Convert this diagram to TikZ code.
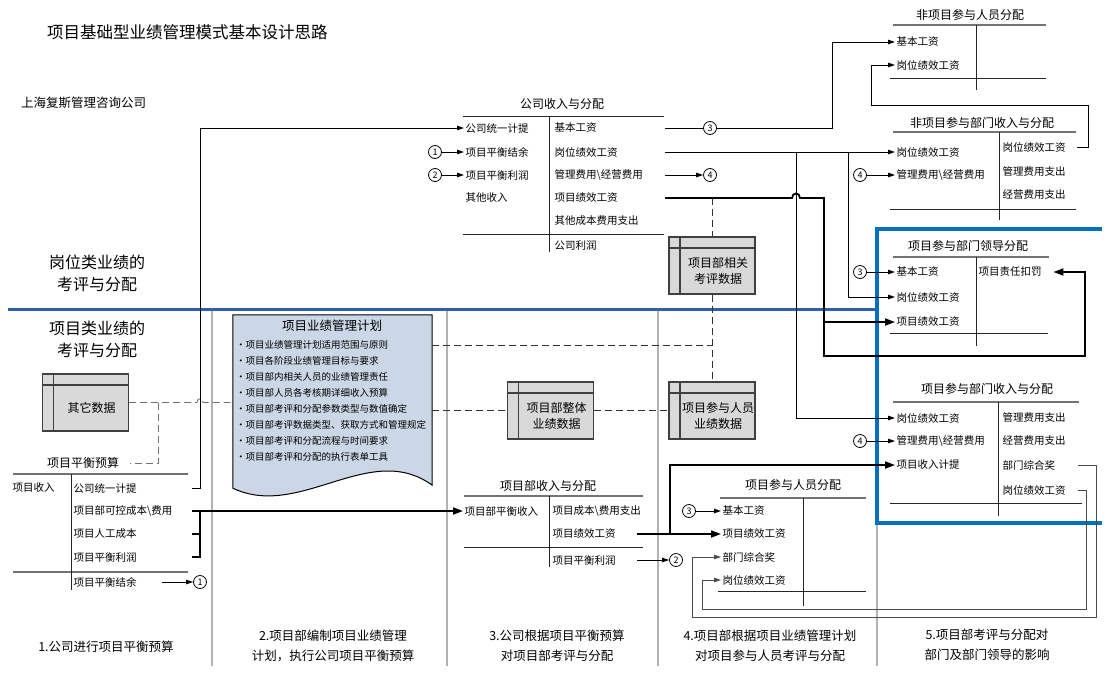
\documentclass[tikz,border=0pt]{standalone}
\usepackage{fontspec}
\setmainfont{Noto Sans CJK SC}
\usetikzlibrary{arrows.meta,positioning,calc}
\tikzset{>={Stealth[inset=0pt,length=7pt,width=4.5pt]}}
\definecolor{bandblue}{HTML}{2E5FA8}
\definecolor{boxblue}{HTML}{0070C0}
\definecolor{planfill}{HTML}{CBD7E7}
\tikzset{
  entry/.style={anchor=west, inner sep=1.5pt, font=\fontsize{10.5}{12}\selectfont},
  tbltitle/.style={inner sep=1pt, font=\fontsize{12}{14}\selectfont},
  tbltop/.style={draw=black!55, line width=1.8pt},
  tblrule/.style={draw=black!85, line width=0.9pt},
  conn/.style={draw=black, line width=0.9pt},
  backconn/.style={draw=black!70, line width=0.9pt},
  heavy/.style={draw=black, line width=1.8pt},
  bigtip/.style={-{Stealth[inset=0pt,length=10pt,width=7pt]}},
  numc/.style={circle, draw, line width=0.8pt, inner sep=0pt, minimum size=13pt, font=\fontsize{9}{9}\selectfont},
  datastore/.style={draw=black!75, fill=black!15, line width=1.1pt, minimum width=86pt, minimum height=57pt, inner sep=0pt,
    path picture={
      \draw[black!75, line width=1.1pt] ([xshift=11pt]path picture bounding box.north west) -- ([xshift=11pt]path picture bounding box.south west);
      \draw[black!75, line width=1.1pt] ([yshift=-11pt]path picture bounding box.north west) -- ([yshift=-11pt]path picture bounding box.north east);
      \node[align=center, font=\fontsize{12}{16}\selectfont] at ([shift={(6pt,-5pt)}]path picture bounding box.center) {#1};
    }},
  planitem/.style={anchor=west, inner sep=0pt, font=\fontsize{9.5}{11}\selectfont},
  caption/.style={align=center, font=\fontsize{12.5}{20}\selectfont},
  section/.style={align=center, font=\fontsize{16}{22}\selectfont},
  colsep/.style={draw=black!30, line width=1.2pt},
  dashlink/.style={draw=black!80, line width=0.9pt, dash pattern=on 7pt off 4pt},
}

\begin{document}
\begin{tikzpicture}[x=1pt,y=-1pt]
\useasboundingbox (0,0) rectangle (1118,694);

% Titulo
\node[anchor=west, inner sep=0pt, font=\fontsize{16.5}{18}\selectfont] (title) at (47,32) {项目基础型业绩管理模式基本设计思路};
\node[anchor=west, inner sep=0pt, font=\fontsize{12.5}{14}\selectfont] (firm) at (21,103) {上海复斯管理咨询公司};

% Franja azul y columnas
\foreach \x in {212,447,658} {\draw[colsep] (\x,311) -- (\x,666);}
\draw[colsep] (877,525) -- (877,666);
\draw[bandblue, line width=3pt] (8,309) -- (877,309);
\draw[boxblue, line width=4pt] (1102,229) -- (877,229) -- (877,523) -- (1102,523);

\node[section] (secPost) at (97,273) {岗位类业绩的\\考评与分配};
\node[section] (secProj) at (97,339) {项目类业绩的\\考评与分配};

% Pasos
\node[caption] (cap1) at (106,647) {1.公司进行项目平衡预算};
\node[caption] (cap2) at (333,646) {2.项目部编制项目业绩管理\\计划，执行公司项目平衡预算};
\node[caption] (cap3) at (557,646) {3.公司根据项目平衡预算\\对项目部考评与分配};
\node[caption] (cap4) at (770,646) {4.项目部根据项目业绩管理计划\\对项目参与人员考评与分配};
\node[caption] (cap5) at (987,645) {5.项目部考评与分配对\\部门及部门领导的影响};

% Datos
\node[datastore={其它数据}] (other) at (85.5,402.5) {};
\node[datastore={项目部相关\\考评数据}] (rel) at (712,265.5) {};
\node[datastore={项目部整体\\业绩数据}] (whole) at (550.5,410.5) {};
\node[datastore={项目参与人员\\业绩数据}] (mem) at (712,410.5) {};

% Plan (documento)
\node[minimum width=199pt, minimum height=173pt, inner sep=0pt] (plan) at (332.5,401.5) {};
\draw[black, line width=1pt, fill=planfill] (plan.south west) -- (plan.north west) -- (plan.north east)
  -- ([yshift=3pt]plan.south east) .. controls (370,440) and (300,520) .. (plan.south west) -- cycle;
\node[tbltitle, font=\fontsize{12.5}{14}\selectfont] (planT) at (332,326) {项目业绩管理计划};
\foreach \t [count=\i] in {项目业绩管理计划适用范围与原则, 项目各阶段业绩管理目标与要求,
  项目部内相关人员的业绩管理责任, 项目部人员各考核期详细收入预算, 项目部考评和分配参数类型与数值确定,
  项目部考评数据类型、获取方式和管理规定, 项目部考评和分配流程与时间要求, 项目部考评和分配的执行表单工具}
  {\node[planitem] (p\i) at (236,329+16*\i) {·\t};}

% Tabla: 项目平衡预算
\node[tbltitle] (aT) at (83,463) {项目平衡预算};
\draw[tbltop] (13,474) -- (188,474);
\draw[tbltop] (13,572) -- (188,572);
\draw[tblrule] (71,474) -- (71,590);
\node[entry] (aIncome) at (11,488) {项目收入};
\node[entry] (aDraw) at (72,488) {公司统一计提};
\node[entry] (aCost) at (72,511) {项目部可控成本\textbackslash 费用};
\node[entry] (aLabor) at (72,534) {项目人工成本};
\node[entry] (aProfit) at (72,557) {项目平衡利润};
\node[entry] (aBal) at (72,582) {项目平衡结余};
\node[numc] (c1a) at (200,582) {1};

% Tabla: 公司收入与分配
\node[tbltitle] (bT) at (562,104) {公司收入与分配};
\draw[tblrule] (463,116) -- (664,116);
\draw[tblrule] (463,234) -- (664,234);
\draw[tblrule] (549,116) -- (549,252);
\node[entry] (bDraw) at (464,128) {公司统一计提};
\node[entry] (bBal) at (464,152) {项目平衡结余};
\node[entry] (bProfit) at (464,175) {项目平衡利润};
\node[entry] (bOther) at (464,198) {其他收入};
\node[entry] (bBase) at (553,128) {基本工资};
\node[entry] (bPost) at (553,152) {岗位绩效工资};
\node[entry] (bFee) at (553,175) {管理费用\textbackslash 经营费用};
\node[entry] (bPerf) at (553,198) {项目绩效工资};
\node[entry] (bCost) at (553,221) {其他成本费用支出};
\node[entry] (bNet) at (553,245) {公司利润};
\node[numc] (c1b) at (435,152) {1};
\node[numc] (c2b) at (435,175) {2};
\node[numc] (c3b) at (710,128) {3};
\node[numc] (c4b) at (710,175) {4};

% Tabla: 非项目参与人员分配
\node[tbltitle] (cT) at (970,15) {非项目参与人员分配};
\draw[tbltop] (893,25) -- (1046,25);
\draw[tblrule] (890,78) -- (1046,78);
\draw[tblrule] (976,25) -- (976,90);
\node[entry] (cBase) at (895,42) {基本工资};
\node[entry] (cPost) at (895,65) {岗位绩效工资};

% Tabla: 非项目参与部门收入与分配
\node[tbltitle] (dT) at (982,123) {非项目参与部门收入与分配};
\draw[tbltop] (893,132) -- (1076,132);
\draw[tblrule] (890,209) -- (1076,209);
\draw[tblrule] (999,132) -- (999,220);
\node[entry] (dPost) at (895,152) {岗位绩效工资};
\node[entry] (dFee) at (895,175) {管理费用\textbackslash 经营费用};
\node[entry] (dPost2) at (1001,147) {岗位绩效工资};
\node[entry] (dMgmt) at (1001,172) {管理费用支出};
\node[entry] (dOps) at (1001,195) {经营费用支出};
\node[numc] (c4d) at (860,175) {4};

% Tabla: 项目参与部门领导分配
\node[tbltitle] (eT) at (968,246) {项目参与部门领导分配};
\draw[tbltop] (893,257) -- (1049,257);
\draw[tblrule] (890,333) -- (1048,333);
\draw[tblrule] (976,257) -- (976,346);
\node[entry] (eBase) at (895,272) {基本工资};
\node[entry] (ePost) at (895,297) {岗位绩效工资};
\node[entry] (ePerf) at (895,322) {项目绩效工资};
\node[entry] (eDed) at (977,272) {项目责任扣罚};
\node[numc] (c3e) at (860,272) {3};

% Tabla: 项目参与部门收入与分配
\node[tbltitle] (fT) at (987,389) {项目参与部门收入与分配};
\draw[tbltop] (893,402) -- (1079,402);
\draw[tblrule] (890,503) -- (1082,503);
\draw[tblrule] (998,402) -- (998,516);
\node[entry] (fPost) at (895,418) {岗位绩效工资};
\node[entry] (fFee) at (895,441) {管理费用\textbackslash 经营费用};
\node[entry] (fDraw) at (895,465) {项目收入计提};
\node[entry] (fMgmt) at (1001,418) {管理费用支出};
\node[entry] (fOps) at (1001,441) {经营费用支出};
\node[entry] (fBonus) at (1001,465) {部门综合奖};
\node[entry] (fPost2) at (1001,490) {岗位绩效工资};
\node[numc] (c4f) at (860,441) {4};

% Tabla: 项目部收入与分配
\node[tbltitle] (gT) at (548,486) {项目部收入与分配};
\draw[tbltop] (464,496) -- (643,496);
\draw[tblrule] (464,547) -- (643,547);
\draw[tblrule] (549,496) -- (549,567);
\node[entry] (gIncome) at (463,511) {项目部平衡收入};
\node[entry] (gCost) at (551,511) {项目成本\textbackslash 费用支出};
\node[entry] (gPerf) at (551,534) {项目绩效工资};
\node[entry] (gProfit) at (551,560) {项目平衡利润};
\node[numc] (c2g) at (676,560) {2};

% Tabla: 项目参与人员分配
\node[tbltitle] (hT) at (793,485) {项目参与人员分配};
\draw[tbltop] (720,498) -- (866,498);
\draw[tblrule] (718,591) -- (866,591);
\draw[tblrule] (803,498) -- (803,606);
\node[entry] (hBase) at (721,511) {基本工资};
\node[entry] (hPerf) at (721,534) {项目绩效工资};
\node[entry] (hBonus) at (721,557) {部门综合奖};
\node[entry] (hPost) at (721,580) {岗位绩效工资};
\node[numc] (c3h) at (689,511) {3};

% Conexiones
\coordinate (aR) at (192,0);
\coordinate (bR) at (665,0);
\coordinate (dR) at (1077,0);
\coordinate (fR) at (1078,0);
\coordinate (gR) at (637,0);
\coordinate (k0) at (200,0);
\coordinate (k1) at (832,0);
\coordinate (k2) at (796,0);
\coordinate (k3) at (848,0);
\coordinate (k4) at (824,0);
\coordinate (k6) at (670,0);

% Lineas de datos
\draw[dashlink, draw=black!55] (other.east) -- ([xshift=-3pt]other -| k0) .. controls +(0,-5) and +(0,-5) .. ([xshift=3pt]other -| k0)
  -- (plan.west |- other.east);
\draw[dashlink, draw=black!55] ($(other.east)+(29,0)$) |- ([xshift=10pt]aT.east);
\draw[dashlink] (plan.east |- p1) -- (p1 -| rel);
\draw[dashlink] (plan.east |- whole) -- (whole.west);
\draw[dashlink] (whole.east) -- (mem.west);
\draw[dashlink] (bPerf -| rel) -- (rel.north);
\draw[dashlink] (rel.south) -- (mem.north);

\draw[conn,->] (aDraw -| aR) -- ++(8,0) |- (bDraw.west);
\draw[heavy] (aCost -| aR) -- ++(8,0) |- (aProfit -| aR);
\draw[heavy] (aLabor -| aR) -- ++(8,0);
\draw[heavy,bigtip] ($(aCost -| aR)+(8,0)$) -- (gIncome.west);
\draw[conn,->] ([xshift=24pt]aBal.east) -- (c1a.west);

\draw[conn,->] (c1b.east) -- (bBal.west);
\draw[conn,->] (c2b.east) -- (bProfit.west);
\draw[conn] (bBase -| bR) -- (c3b.west);
\draw[conn,->] (c3b.east) -| (cBase -| k1) -- (cBase.west);
\draw[conn,->] (bPost -| bR) -- (dPost.west);
\draw[conn,->] (bPost -| k2) |- (fPost.west);
\draw[conn,->] (bPost -| k3) |- (ePost.west);
\draw[conn,->] (bFee -| bR) -- (c4b.west);
\draw[heavy,bigtip] (bPerf -| bR) -- ([xshift=-4pt]bPerf -| k2) .. controls +(0,-6) and +(0,-6) .. ([xshift=4pt]bPerf -| k2)
  -| (824,356) -| (1085,272) -- ([xshift=10pt]eDed.east);
\draw[heavy,bigtip] (ePerf -| k4) -- (ePerf.west);

\draw[conn,->] (c4d.east) -- (dFee.west);
\draw[conn,->] (dPost2 -| dR) -- ++(11,0) |- (871,105) |- (cPost.west);
\draw[conn,->] (c3e.east) -- (eBase.west);
\draw[conn,->] (c4f.east) -- (fFee.west);

\draw[heavy,bigtip] (gPerf -| gR) -- (hPerf.west);
\draw[heavy,bigtip] (gPerf -| k6) |- (fDraw.west);
\draw[conn,->] (gProfit -| gR) -- (c2g.west);
\draw[conn,->] (c3h.east) -- (hBase.west);
\draw[backconn,->] (fBonus -| fR) -- ++(18,0) |- (692,617) |- (hBonus.west);
\draw[backconn,->] (fPost2 -| fR) -- ++(8,0) |- (702,609) |- (hPost.west);

\end{tikzpicture}
\end{document}
